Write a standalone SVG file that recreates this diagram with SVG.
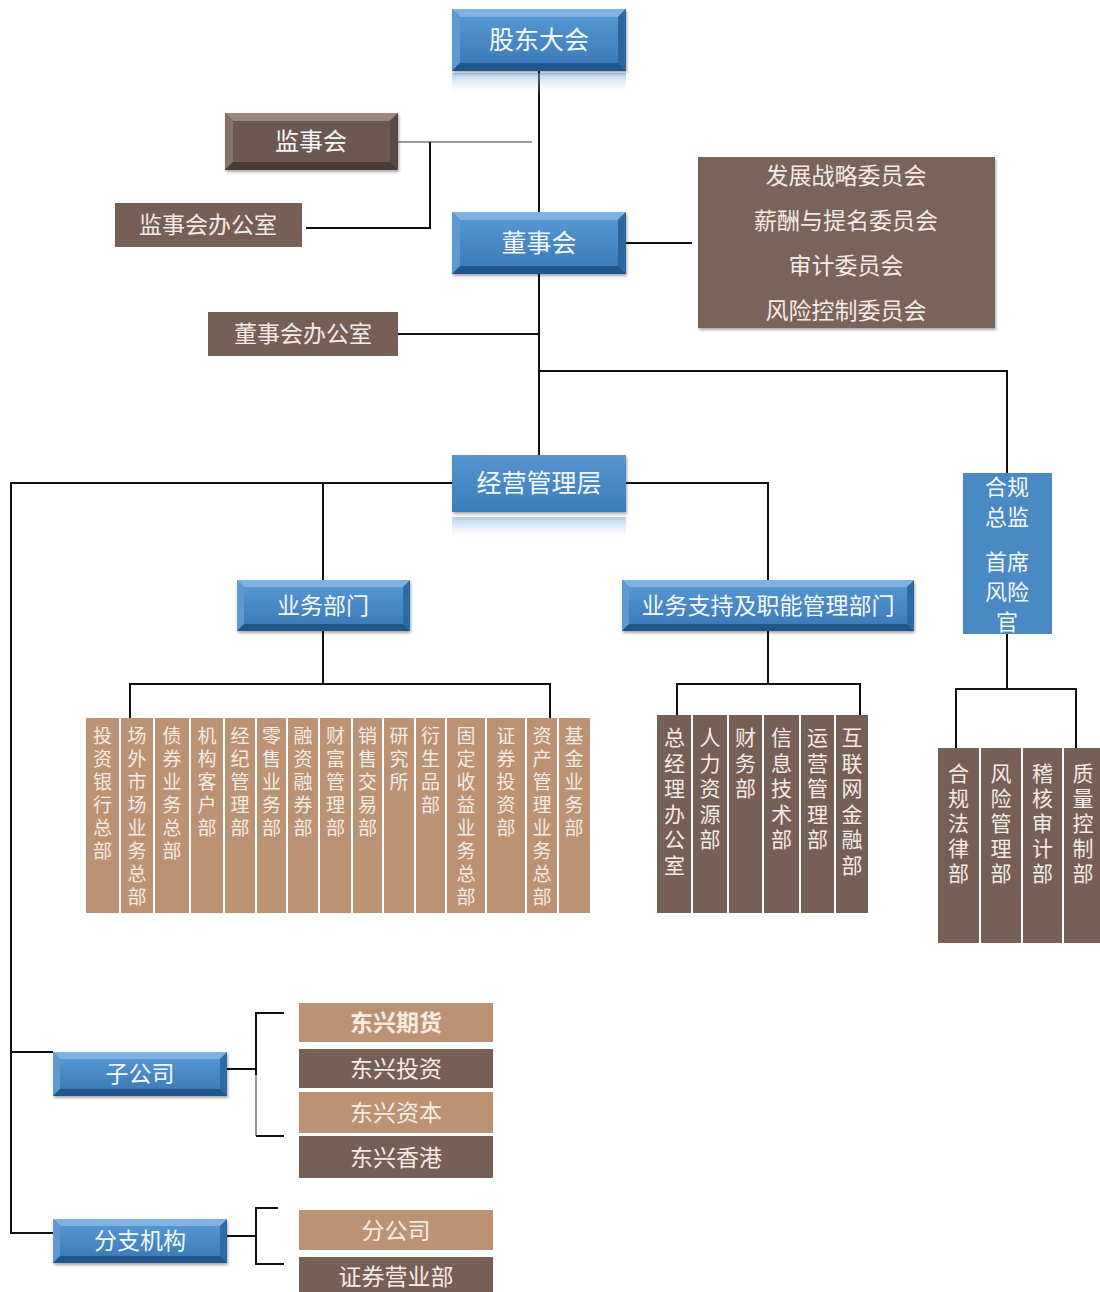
<svg xmlns="http://www.w3.org/2000/svg" width="1100" height="1292" viewBox="0 0 1100 1292">
<defs>
<style>
.t{font-family:"Liberation Serif","Noto Sans CJK SC",serif;fill:#f4f8fc;text-anchor:middle}
.tl{font-family:"Liberation Serif","Noto Sans CJK SC",serif;fill:#f3ebe4;text-anchor:middle}
.ln{stroke:#111;stroke-width:2;fill:none}
.lg{stroke:#999;stroke-width:2;fill:none}
.tan{fill:#bb9374}
.dk{fill:#765f55}
</style>
<linearGradient id="bf" x1="0" y1="0" x2="0" y2="1"><stop offset="0" stop-color="#5595d0"/><stop offset="1" stop-color="#3d7cba"/></linearGradient>
<linearGradient id="rf" x1="0" y1="0" x2="0" y2="1"><stop offset="0" stop-color="#6ea3d6" stop-opacity="0.55"/><stop offset="1" stop-color="#ffffff" stop-opacity="0"/></linearGradient>
<filter id="sh" x="-10%" y="-10%" width="125%" height="140%"><feDropShadow dx="1" dy="2" stdDeviation="1.5" flood-color="#000" flood-opacity="0.35"/></filter>
<filter id="gl" x="-20%" y="-10%" width="140%" height="120%"><feGaussianBlur in="SourceAlpha" stdDeviation="3"/><feFlood flood-color="#4d8cc7" flood-opacity="0.5"/><feComposite operator="in" in2="SourceGraphic"/><feMerge><feMergeNode/><feMergeNode in="SourceGraphic"/></feMerge></filter>
</defs>
<rect width="1100" height="1292" fill="#ffffff"/>

<g id="connectors">
<path class="ln" d="M539 71V455"/>
<path class="lg" d="M398 142H532"/>
<path class="ln" d="M430 142V228H306"/>
<path class="ln" d="M626 243H692"/>
<path class="ln" d="M398 334H539"/>
<path class="ln" d="M539 371H1007V473"/>
<path class="ln" d="M452 483H11V1233H53"/>
<path class="ln" d="M11 1052H53"/>
<path class="ln" d="M323 483V580"/>
<path class="ln" d="M626 483H768V580"/>
<path class="ln" d="M323 631V684M130 718V684H550V718"/>
<path class="ln" d="M768 631V684M677 715V684H860V715"/>
<path class="ln" d="M1007 634V689M956 748V689H1076V748"/>
<path class="ln" d="M227 1069H256M284 1013H256V1075"/>
<path class="lg" d="M256 1075V1136"/>
<path class="ln" d="M256 1136H284"/>
<path class="ln" d="M227 1236H256M278 1208H256V1264H284"/>
</g>

<g id="gudong">
<rect x="452" y="73" width="174" height="22" fill="url(#rf)"/>
<g filter="url(#sh)">
<rect x="452" y="9" width="174" height="62" fill="#2f6aa5"/>
<polygon points="452,9 626,9 618,17 460,17" fill="#7fb2e0"/>
<polygon points="452,9 460,17 460,63 452,71" fill="#5f99d0"/>
<polygon points="626,9 626,71 618,63 618,17" fill="#2d659d"/>
<polygon points="452,71 626,71 618,63 460,63" fill="#24578a"/>
<rect x="460" y="17" width="158" height="46" fill="url(#bf)"/>
</g>
<text class="t" x="539" y="49" font-size="25">股东大会</text>
</g>

<g id="jianshihui">
<g filter="url(#sh)">
<rect x="225" y="113" width="173" height="57" fill="#5a4840"/>
<polygon points="225,113 398,113 390,121 233,121" fill="#9c8a80"/>
<polygon points="225,113 233,121 233,162 225,170" fill="#85726a"/>
<polygon points="398,113 398,170 390,162 390,121" fill="#5a4840"/>
<polygon points="225,170 398,170 390,162 233,162" fill="#4b3b35"/>
<rect x="233" y="121" width="157" height="41" fill="#6d5950"/>
</g>
<text class="t" x="311" y="150" font-size="24">监事会</text>
</g>

<g id="jianshihui-office">
<rect x="115" y="203" width="187" height="44" class="dk"/>
<text class="tl" x="208" y="233" font-size="23">监事会办公室</text>
</g>

<g id="dongshihui">
<g filter="url(#sh)">
<rect x="452" y="212" width="174" height="62" fill="#2f6aa5"/>
<polygon points="452,212 626,212 618,220 460,220" fill="#7fb2e0"/>
<polygon points="452,212 460,220 460,266 452,274" fill="#5f99d0"/>
<polygon points="626,212 626,274 618,266 618,220" fill="#2d659d"/>
<polygon points="452,274 626,274 618,266 460,266" fill="#24578a"/>
<rect x="460" y="220" width="158" height="46" fill="url(#bf)"/>
</g>
<text class="t" x="539" y="252" font-size="25">董事会</text>
</g>

<g id="committees">
<rect x="698" y="157" width="297" height="171" fill="#7a6358" filter="url(#sh)"/>
<text class="tl" x="846" y="184" font-size="23">发展战略委员会</text>
<text class="tl" x="846" y="229" font-size="23">薪酬与提名委员会</text>
<text class="tl" x="846" y="274" font-size="23">审计委员会</text>
<text class="tl" x="846" y="319" font-size="23">风险控制委员会</text>
</g>

<g id="dongshihui-office">
<rect x="208" y="312" width="190" height="44" class="dk"/>
<text class="tl" x="303" y="342" font-size="23">董事会办公室</text>
</g>

<g id="jingying">
<rect x="452" y="517" width="174" height="24" fill="url(#rf)"/>
<rect x="452" y="455" width="174" height="57" fill="url(#bf)" filter="url(#sh)"/>
<text class="t" x="539" y="492" font-size="25">经营管理层</text>
</g>

<g id="hegui">
<rect x="963" y="473" width="89" height="161" fill="#4a89c4" filter="url(#gl)"/>
<text class="t" x="1007" y="495" font-size="22">合规</text>
<text class="t" x="1007" y="525" font-size="22">总监</text>
<text class="t" x="1007" y="570" font-size="22">首席</text>
<text class="t" x="1007" y="600" font-size="22">风险</text>
<text class="t" x="1007" y="630" font-size="22">官</text>
</g>

<g id="yewu">
<g filter="url(#sh)">
<rect x="237" y="580" width="173" height="51" fill="#2f6aa5"/>
<polygon points="237,580 410,580 403,587 244,587" fill="#7fb2e0"/>
<polygon points="237,580 244,587 244,624 237,631" fill="#5f99d0"/>
<polygon points="237,631 410,631 403,624 244,624" fill="#24578a"/>
<rect x="244" y="587" width="159" height="37" fill="url(#bf)"/>
</g>
<text class="t" x="323" y="614" font-size="23">业务部门</text>
</g>

<g id="zhichi">
<g filter="url(#sh)">
<rect x="622" y="580" width="292" height="51" fill="#2f6aa5"/>
<polygon points="622,580 914,580 907,587 629,587" fill="#7fb2e0"/>
<polygon points="622,580 629,587 629,624 622,631" fill="#5f99d0"/>
<polygon points="622,631 914,631 907,624 629,624" fill="#24578a"/>
<rect x="629" y="587" width="278" height="37" fill="url(#bf)"/>
</g>
<text class="t" x="768" y="614" font-size="23">业务支持及职能管理部门</text>
</g>

<g id="yewu-depts">
<rect class="tan" x="86" y="718" width="33" height="195"/>
<rect class="tan" x="121" y="718" width="32" height="195"/>
<rect class="tan" x="155" y="718" width="34" height="195"/>
<rect class="tan" x="191" y="718" width="32" height="195"/>
<rect class="tan" x="225" y="718" width="30" height="195"/>
<rect class="tan" x="257" y="718" width="29" height="195"/>
<rect class="tan" x="288" y="718" width="30" height="195"/>
<rect class="tan" x="320" y="718" width="31" height="195"/>
<rect class="tan" x="353" y="718" width="29" height="195"/>
<rect class="tan" x="384" y="718" width="30" height="195"/>
<rect class="tan" x="416" y="718" width="29" height="195"/>
<rect class="tan" x="447" y="718" width="38" height="195"/>
<rect class="tan" x="487" y="718" width="38" height="195"/>
<rect class="tan" x="527" y="718" width="30" height="195"/>
<rect class="tan" x="559" y="718" width="31" height="195"/>
<text class="tl" font-size="19"><tspan x="102.5" y="743">投</tspan><tspan x="102.5" dy="23">资</tspan><tspan x="102.5" dy="23">银</tspan><tspan x="102.5" dy="23">行</tspan><tspan x="102.5" dy="23">总</tspan><tspan x="102.5" dy="23">部</tspan></text>
<text class="tl" font-size="19"><tspan x="137" y="743">场</tspan><tspan x="137" dy="23">外</tspan><tspan x="137" dy="23">市</tspan><tspan x="137" dy="23">场</tspan><tspan x="137" dy="23">业</tspan><tspan x="137" dy="23">务</tspan><tspan x="137" dy="23">总</tspan><tspan x="137" dy="23">部</tspan></text>
<text class="tl" font-size="19"><tspan x="172" y="743">债</tspan><tspan x="172" dy="23">券</tspan><tspan x="172" dy="23">业</tspan><tspan x="172" dy="23">务</tspan><tspan x="172" dy="23">总</tspan><tspan x="172" dy="23">部</tspan></text>
<text class="tl" font-size="19"><tspan x="207" y="743">机</tspan><tspan x="207" dy="23">构</tspan><tspan x="207" dy="23">客</tspan><tspan x="207" dy="23">户</tspan><tspan x="207" dy="23">部</tspan></text>
<text class="tl" font-size="19"><tspan x="240" y="743">经</tspan><tspan x="240" dy="23">纪</tspan><tspan x="240" dy="23">管</tspan><tspan x="240" dy="23">理</tspan><tspan x="240" dy="23">部</tspan></text>
<text class="tl" font-size="19"><tspan x="271.5" y="743">零</tspan><tspan x="271.5" dy="23">售</tspan><tspan x="271.5" dy="23">业</tspan><tspan x="271.5" dy="23">务</tspan><tspan x="271.5" dy="23">部</tspan></text>
<text class="tl" font-size="19"><tspan x="303" y="743">融</tspan><tspan x="303" dy="23">资</tspan><tspan x="303" dy="23">融</tspan><tspan x="303" dy="23">券</tspan><tspan x="303" dy="23">部</tspan></text>
<text class="tl" font-size="19"><tspan x="335.5" y="743">财</tspan><tspan x="335.5" dy="23">富</tspan><tspan x="335.5" dy="23">管</tspan><tspan x="335.5" dy="23">理</tspan><tspan x="335.5" dy="23">部</tspan></text>
<text class="tl" font-size="19"><tspan x="367.5" y="743">销</tspan><tspan x="367.5" dy="23">售</tspan><tspan x="367.5" dy="23">交</tspan><tspan x="367.5" dy="23">易</tspan><tspan x="367.5" dy="23">部</tspan></text>
<text class="tl" font-size="19"><tspan x="399" y="743">研</tspan><tspan x="399" dy="23">究</tspan><tspan x="399" dy="23">所</tspan></text>
<text class="tl" font-size="19"><tspan x="430.5" y="743">衍</tspan><tspan x="430.5" dy="23">生</tspan><tspan x="430.5" dy="23">品</tspan><tspan x="430.5" dy="23">部</tspan></text>
<text class="tl" font-size="19"><tspan x="466" y="743">固</tspan><tspan x="466" dy="23">定</tspan><tspan x="466" dy="23">收</tspan><tspan x="466" dy="23">益</tspan><tspan x="466" dy="23">业</tspan><tspan x="466" dy="23">务</tspan><tspan x="466" dy="23">总</tspan><tspan x="466" dy="23">部</tspan></text>
<text class="tl" font-size="19"><tspan x="506" y="743">证</tspan><tspan x="506" dy="23">券</tspan><tspan x="506" dy="23">投</tspan><tspan x="506" dy="23">资</tspan><tspan x="506" dy="23">部</tspan></text>
<text class="tl" font-size="19"><tspan x="542" y="743">资</tspan><tspan x="542" dy="23">产</tspan><tspan x="542" dy="23">管</tspan><tspan x="542" dy="23">理</tspan><tspan x="542" dy="23">业</tspan><tspan x="542" dy="23">务</tspan><tspan x="542" dy="23">总</tspan><tspan x="542" dy="23">部</tspan></text>
<text class="tl" font-size="19"><tspan x="574" y="743">基</tspan><tspan x="574" dy="23">金</tspan><tspan x="574" dy="23">业</tspan><tspan x="574" dy="23">务</tspan><tspan x="574" dy="23">部</tspan></text>
</g>

<g id="zhichi-depts">
<rect class="dk" x="657" y="715" width="34" height="198"/>
<rect class="dk" x="693" y="715" width="34" height="198"/>
<rect class="dk" x="729" y="715" width="33" height="198"/>
<rect class="dk" x="764" y="715" width="35" height="198"/>
<rect class="dk" x="801" y="715" width="33" height="198"/>
<rect class="dk" x="836" y="715" width="32" height="198"/>
<text class="tl" font-size="21"><tspan x="674.5" y="745">总</tspan><tspan x="674.5" dy="25.5">经</tspan><tspan x="674.5" dy="25.5">理</tspan><tspan x="674.5" dy="25.5">办</tspan><tspan x="674.5" dy="25.5">公</tspan><tspan x="674.5" dy="25.5">室</tspan></text>
<text class="tl" font-size="21"><tspan x="710" y="745">人</tspan><tspan x="710" dy="25.5">力</tspan><tspan x="710" dy="25.5">资</tspan><tspan x="710" dy="25.5">源</tspan><tspan x="710" dy="25.5">部</tspan></text>
<text class="tl" font-size="21"><tspan x="745.5" y="745">财</tspan><tspan x="745.5" dy="25.5">务</tspan><tspan x="745.5" dy="25.5">部</tspan></text>
<text class="tl" font-size="21"><tspan x="781.5" y="745">信</tspan><tspan x="781.5" dy="25.5">息</tspan><tspan x="781.5" dy="25.5">技</tspan><tspan x="781.5" dy="25.5">术</tspan><tspan x="781.5" dy="25.5">部</tspan></text>
<text class="tl" font-size="21"><tspan x="817.5" y="745">运</tspan><tspan x="817.5" dy="25.5">营</tspan><tspan x="817.5" dy="25.5">管</tspan><tspan x="817.5" dy="25.5">理</tspan><tspan x="817.5" dy="25.5">部</tspan></text>
<text class="tl" font-size="21"><tspan x="852" y="745">互</tspan><tspan x="852" dy="25.5">联</tspan><tspan x="852" dy="25.5">网</tspan><tspan x="852" dy="25.5">金</tspan><tspan x="852" dy="25.5">融</tspan><tspan x="852" dy="25.5">部</tspan></text>
</g>

<g id="hegui-depts">
<rect class="dk" x="938" y="748" width="41" height="195"/>
<rect class="dk" x="981" y="748" width="40" height="195"/>
<rect class="dk" x="1023" y="748" width="39" height="195"/>
<rect class="dk" x="1064" y="748" width="36" height="195"/>
<text class="tl" font-size="21"><tspan x="958.5" y="781">合</tspan><tspan x="958.5" dy="25">规</tspan><tspan x="958.5" dy="25">法</tspan><tspan x="958.5" dy="25">律</tspan><tspan x="958.5" dy="25">部</tspan></text>
<text class="tl" font-size="21"><tspan x="1001" y="781">风</tspan><tspan x="1001" dy="25">险</tspan><tspan x="1001" dy="25">管</tspan><tspan x="1001" dy="25">理</tspan><tspan x="1001" dy="25">部</tspan></text>
<text class="tl" font-size="21"><tspan x="1042.5" y="781">稽</tspan><tspan x="1042.5" dy="25">核</tspan><tspan x="1042.5" dy="25">审</tspan><tspan x="1042.5" dy="25">计</tspan><tspan x="1042.5" dy="25">部</tspan></text>
<text class="tl" font-size="21"><tspan x="1083" y="781">质</tspan><tspan x="1083" dy="25">量</tspan><tspan x="1083" dy="25">控</tspan><tspan x="1083" dy="25">制</tspan><tspan x="1083" dy="25">部</tspan></text>
</g>

<g id="zigongsi">
<g filter="url(#sh)">
<rect x="53" y="1052" width="174" height="44" fill="#2f6aa5"/>
<polygon points="53,1052 227,1052 220,1059 60,1059" fill="#7fb2e0"/>
<polygon points="53,1052 60,1059 60,1089 53,1096" fill="#5f99d0"/>
<polygon points="53,1096 227,1096 220,1089 60,1089" fill="#24578a"/>
<rect x="60" y="1059" width="160" height="30" fill="url(#bf)"/>
</g>
<text class="t" x="140" y="1082" font-size="23">子公司</text>
</g>

<g id="subs">
<rect class="tan" x="299" y="1003" width="194" height="39"/>
<text class="tl" x="396" y="1031" font-size="23" font-weight="bold">东兴期货</text>
<rect class="dk" x="299" y="1049" width="194" height="39"/>
<text class="tl" x="396" y="1077" font-size="23">东兴投资</text>
<rect class="tan" x="299" y="1092" width="194" height="41"/>
<text class="tl" x="396" y="1121" font-size="23">东兴资本</text>
<rect class="dk" x="299" y="1136" width="194" height="42"/>
<text class="tl" x="396" y="1166" font-size="23">东兴香港</text>
</g>

<g id="fenzhi">
<g filter="url(#sh)">
<rect x="53" y="1219" width="174" height="44" fill="#2f6aa5"/>
<polygon points="53,1219 227,1219 220,1226 60,1226" fill="#7fb2e0"/>
<polygon points="53,1219 60,1226 60,1256 53,1263" fill="#5f99d0"/>
<polygon points="53,1263 227,1263 220,1256 60,1256" fill="#24578a"/>
<rect x="60" y="1226" width="160" height="30" fill="url(#bf)"/>
</g>
<text class="t" x="140" y="1249" font-size="23">分支机构</text>
</g>

<g id="branches">
<rect class="tan" x="299" y="1210" width="194" height="40"/>
<text class="tl" x="396" y="1239" font-size="23">分公司</text>
<rect class="dk" x="299" y="1257" width="194" height="35"/>
<text class="tl" x="396" y="1285" font-size="23">证券营业部</text>
</g>
</svg>
